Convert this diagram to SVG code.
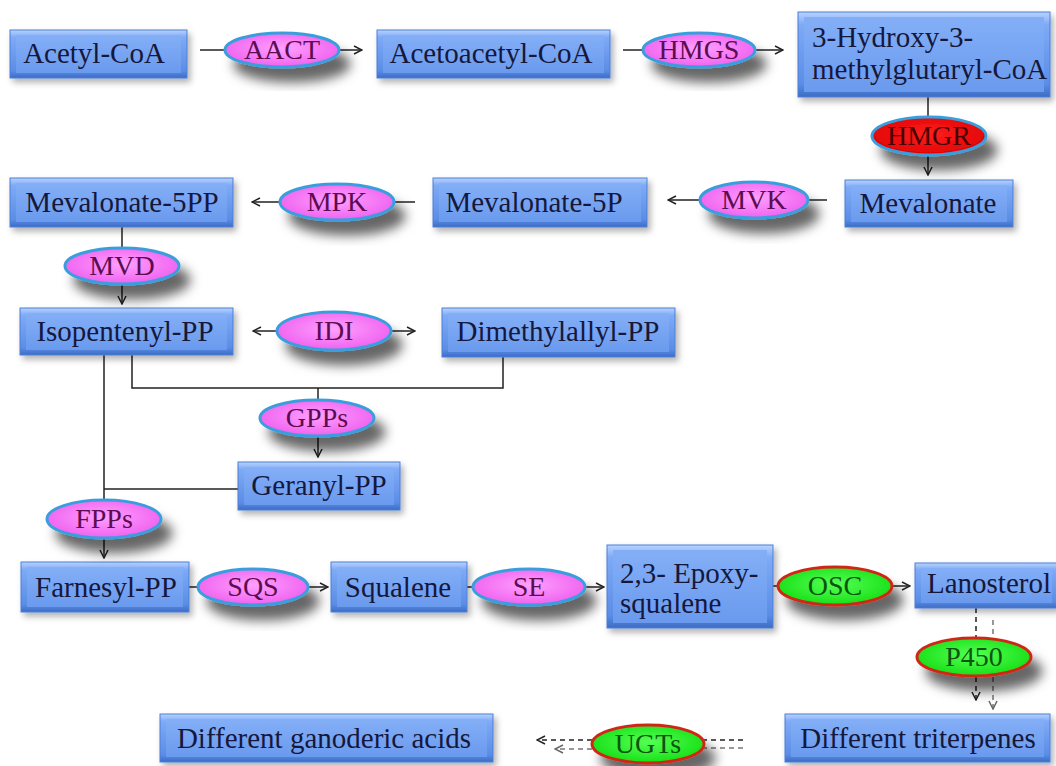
<svg xmlns="http://www.w3.org/2000/svg" width="1056" height="766" viewBox="0 0 1056 766">
<defs>
<linearGradient id="gOut" x1="0" y1="0" x2="0" y2="1">
<stop offset="0" stop-color="#b8d4ff"/><stop offset="0.15" stop-color="#7eaaf6"/><stop offset="0.85" stop-color="#5a8de6"/><stop offset="1" stop-color="#3d6cc4"/>
</linearGradient>
<linearGradient id="gIn" x1="0" y1="0" x2="0" y2="1">
<stop offset="0" stop-color="#84aff7"/><stop offset="1" stop-color="#6a9aee"/>
</linearGradient>
<radialGradient id="gPink" cx="0.5" cy="0.45" r="0.6">
<stop offset="0" stop-color="#ffa0ff"/><stop offset="1" stop-color="#ee5cee"/>
</radialGradient>
<radialGradient id="gGreen" cx="0.5" cy="0.45" r="0.6">
<stop offset="0" stop-color="#55ff55"/><stop offset="1" stop-color="#11dd11"/>
</radialGradient>
<radialGradient id="gRed" cx="0.5" cy="0.45" r="0.6">
<stop offset="0" stop-color="#ff2020"/><stop offset="1" stop-color="#dd0000"/>
</radialGradient>
<filter id="shBox" x="-10%" y="-20%" width="125%" height="160%">
<feDropShadow dx="3" dy="4" stdDeviation="3" flood-color="#000" flood-opacity="0.3"/>
</filter>
<filter id="shEl" x="-20%" y="-30%" width="150%" height="200%">
<feDropShadow dx="10" dy="14" stdDeviation="6" flood-color="#000" flood-opacity="0.6"/>
</filter>
<marker id="arr" viewBox="0 0 10 10" refX="9" refY="5" markerWidth="10" markerHeight="10" markerUnits="userSpaceOnUse" orient="auto">
<path d="M1,1 L9,5 L1,9" fill="none" stroke="#222" stroke-width="1.5"/>
</marker>
<marker id="arrG" viewBox="0 0 10 10" refX="9" refY="5" markerWidth="10" markerHeight="10" markerUnits="userSpaceOnUse" orient="auto">
<path d="M1,1 L9,5 L1,9" fill="none" stroke="#666" stroke-width="1.5"/>
</marker>
</defs>
<style>
.box{fill:url(#gOut);stroke:#4d7fd8;stroke-width:1;filter:url(#shBox)}
.bin{fill:url(#gIn)}
.bt{font-family:"Liberation Serif","Times New Roman",serif;font-size:29px;fill:#15183c;text-anchor:middle}
.bl{text-anchor:start}
.el{filter:url(#shEl);stroke-width:3}
.pink{fill:url(#gPink);stroke:#3a9edc}
.green{fill:url(#gGreen);stroke:#d02818}
.red{fill:url(#gRed);stroke:#3a9edc}
.et{font-family:"Liberation Serif","Times New Roman",serif;font-size:28px;text-anchor:middle;fill:#5c0c50}
.etg{fill:#0c560c}
.etr{fill:#4a0000}
.ln{fill:none;stroke:#222;stroke-width:1.5}
.dl{fill:none;stroke:#222;stroke-width:1.5;stroke-dasharray:5 4}
.dg{fill:none;stroke:#777;stroke-width:1.5;stroke-dasharray:5 4}
</style>
<rect width="1056" height="766" fill="#fff"/>

<g id="connectors">
<line class="ln" x1="200" y1="50" x2="225" y2="50"/>
<line class="ln" x1="339" y1="50" x2="362" y2="50" marker-end="url(#arr)"/>
<line class="ln" x1="623" y1="50" x2="643" y2="50"/>
<line class="ln" x1="755" y1="50" x2="783" y2="50" marker-end="url(#arr)"/>
<line class="ln" x1="928" y1="97" x2="928" y2="117"/>
<line class="ln" x1="928" y1="155" x2="928" y2="175" marker-end="url(#arr)"/>
<line class="ln" x1="827" y1="200" x2="808" y2="200"/>
<line class="ln" x1="700" y1="200" x2="668" y2="200" marker-end="url(#arr)"/>
<line class="ln" x1="415" y1="202" x2="394" y2="202"/>
<line class="ln" x1="280" y1="202" x2="252" y2="202" marker-end="url(#arr)"/>
<line class="ln" x1="122" y1="227" x2="122" y2="248"/>
<line class="ln" x1="122" y1="284" x2="122" y2="304" marker-end="url(#arr)"/>
<line class="ln" x1="277" y1="331" x2="253" y2="331" marker-end="url(#arr)"/>
<line class="ln" x1="391" y1="331" x2="415" y2="331" marker-end="url(#arr)"/>
<polyline class="ln" points="132,355 132,388 503,388 503,357"/>
<line class="ln" x1="318" y1="388" x2="318" y2="400"/>
<line class="ln" x1="318" y1="436" x2="318" y2="457" marker-end="url(#arr)"/>
<line class="ln" x1="104" y1="355" x2="104" y2="500"/>
<line class="ln" x1="238" y1="489" x2="104" y2="489"/>
<line class="ln" x1="104" y1="538" x2="104" y2="558" marker-end="url(#arr)"/>
<line class="ln" x1="189" y1="587" x2="198" y2="587"/>
<line class="ln" x1="308" y1="587" x2="328" y2="587" marker-end="url(#arr)"/>
<line class="ln" x1="467" y1="587" x2="473" y2="587"/>
<line class="ln" x1="585" y1="587" x2="604" y2="587" marker-end="url(#arr)"/>
<line class="ln" x1="773" y1="586" x2="778" y2="586"/>
<line class="ln" x1="892" y1="586" x2="910" y2="586" marker-end="url(#arr)"/>
<line class="dl" x1="976" y1="608" x2="976" y2="638"/>
<line class="dg" x1="993" y1="620" x2="993" y2="640"/>
<line class="dl" x1="976" y1="677" x2="976" y2="700" marker-end="url(#arr)"/>
<line class="dg" x1="993" y1="677" x2="993" y2="709" marker-end="url(#arrG)"/>
<line class="dl" x1="743" y1="740" x2="704" y2="740"/>
<line class="dg" x1="743" y1="748" x2="704" y2="748"/>
<line class="dl" x1="592" y1="740" x2="537" y2="740" marker-end="url(#arr)"/>
<line class="dg" x1="592" y1="749" x2="555" y2="749" marker-end="url(#arrG)"/>
</g>

<g id="acetyl-coa"><rect class="box" x="10" y="30" width="177" height="48"/><rect class="bin" x="16" y="35" width="165" height="38"/><text class="bt" x="94" y="63">Acetyl-CoA</text></g>
<g id="acetoacetyl-coa"><rect class="box" x="377" y="30" width="233" height="48"/><rect class="bin" x="383" y="35" width="221" height="38"/><text class="bt" x="491" y="63">Acetoacetyl-CoA</text></g>
<g id="hmg-coa"><rect class="box" x="798" y="12" width="252" height="85"/><rect class="bin" x="804" y="17" width="240" height="75"/><text class="bt bl" x="812" y="47">3-Hydroxy-3-</text><text class="bt bl" x="812" y="79">methylglutaryl-CoA</text></g>
<g id="mevalonate"><rect class="box" x="845" y="180" width="168" height="47"/><rect class="bin" x="851" y="185" width="156" height="37"/><text class="bt" x="928" y="213">Mevalonate</text></g>
<g id="mevalonate-5p"><rect class="box" x="433" y="178" width="214" height="49"/><rect class="bin" x="439" y="183" width="202" height="39"/><text class="bt" x="534" y="212">Mevalonate-5P</text></g>
<g id="mevalonate-5pp"><rect class="box" x="10" y="178" width="223" height="49"/><rect class="bin" x="16" y="183" width="211" height="39"/><text class="bt" x="122" y="212">Mevalonate-5PP</text></g>
<g id="isopentenyl-pp"><rect class="box" x="20" y="308" width="213" height="47"/><rect class="bin" x="26" y="313" width="201" height="37"/><text class="bt" x="125" y="341">Isopentenyl-PP</text></g>
<g id="dimethylallyl-pp"><rect class="box" x="442" y="308" width="233" height="49"/><rect class="bin" x="448" y="313" width="221" height="39"/><text class="bt" x="558" y="341">Dimethylallyl-PP</text></g>
<g id="geranyl-pp"><rect class="box" x="238" y="462" width="162" height="48"/><rect class="bin" x="244" y="467" width="150" height="38"/><text class="bt" x="319" y="495">Geranyl-PP</text></g>
<g id="farnesyl-pp"><rect class="box" x="21" y="562" width="168" height="50"/><rect class="bin" x="27" y="567" width="156" height="40"/><text class="bt" x="106" y="597">Farnesyl-PP</text></g>
<g id="squalene"><rect class="box" x="331" y="562" width="136" height="50"/><rect class="bin" x="337" y="567" width="124" height="40"/><text class="bt" x="398" y="597">Squalene</text></g>
<g id="epoxysqualene"><rect class="box" x="607" y="545" width="166" height="83"/><rect class="bin" x="613" y="550" width="154" height="73"/><text class="bt bl" x="620" y="583">2,3- Epoxy-</text><text class="bt bl" x="620" y="613">squalene</text></g>
<g id="lanosterol"><rect class="box" x="915" y="563" width="143" height="45"/><rect class="bin" x="921" y="568" width="131" height="35"/><text class="bt" x="989" y="593">Lanosterol</text></g>
<g id="triterpenes"><rect class="box" x="785" y="714" width="265" height="48"/><rect class="bin" x="791" y="719" width="253" height="38"/><text class="bt" x="918" y="748">Different triterpenes</text></g>
<g id="ganoderic-acids"><rect class="box" x="160" y="714" width="333" height="48"/><rect class="bin" x="166" y="719" width="321" height="38"/><text class="bt" x="324" y="748">Different ganoderic acids</text></g>

<g id="aact"><ellipse class="el pink" cx="282" cy="50" rx="57" ry="17"/><text class="et" x="282" y="59">AACT</text></g>
<g id="hmgs"><ellipse class="el pink" cx="699" cy="50" rx="56" ry="17"/><text class="et" x="699" y="59">HMGS</text></g>
<g id="hmgr"><ellipse class="el red" cx="929" cy="136" rx="57" ry="19"/><text class="et etr" x="929" y="145">HMGR</text></g>
<g id="mvk"><ellipse class="el pink" cx="754" cy="200" rx="54" ry="18"/><text class="et" x="754" y="209">MVK</text></g>
<g id="mpk"><ellipse class="el pink" cx="337" cy="202" rx="57" ry="18"/><text class="et" x="337" y="211">MPK</text></g>
<g id="mvd"><ellipse class="el pink" cx="122" cy="266" rx="57" ry="18"/><text class="et" x="122" y="275">MVD</text></g>
<g id="idi"><ellipse class="el pink" cx="334" cy="331" rx="57" ry="19"/><text class="et" x="334" y="340">IDI</text></g>
<g id="gpps"><ellipse class="el pink" cx="317" cy="418" rx="57" ry="18"/><text class="et" x="317" y="427">GPPs</text></g>
<g id="fpps"><ellipse class="el pink" cx="104" cy="519" rx="57" ry="19"/><text class="et" x="104" y="528">FPPs</text></g>
<g id="sqs"><ellipse class="el pink" cx="253" cy="587" rx="55" ry="18"/><text class="et" x="253" y="596">SQS</text></g>
<g id="se"><ellipse class="el pink" cx="529" cy="587" rx="56" ry="18"/><text class="et" x="529" y="596">SE</text></g>
<g id="osc"><ellipse class="el green" cx="835" cy="586" rx="57" ry="19"/><text class="et etg" x="835" y="595">OSC</text></g>
<g id="p450"><ellipse class="el green" cx="974" cy="657" rx="57" ry="19"/><text class="et etg" x="974" y="666">P450</text></g>
<g id="ugts"><ellipse class="el green" cx="648" cy="744" rx="56" ry="19"/><text class="et etg" x="648" y="753">UGTs</text></g>
</svg>
